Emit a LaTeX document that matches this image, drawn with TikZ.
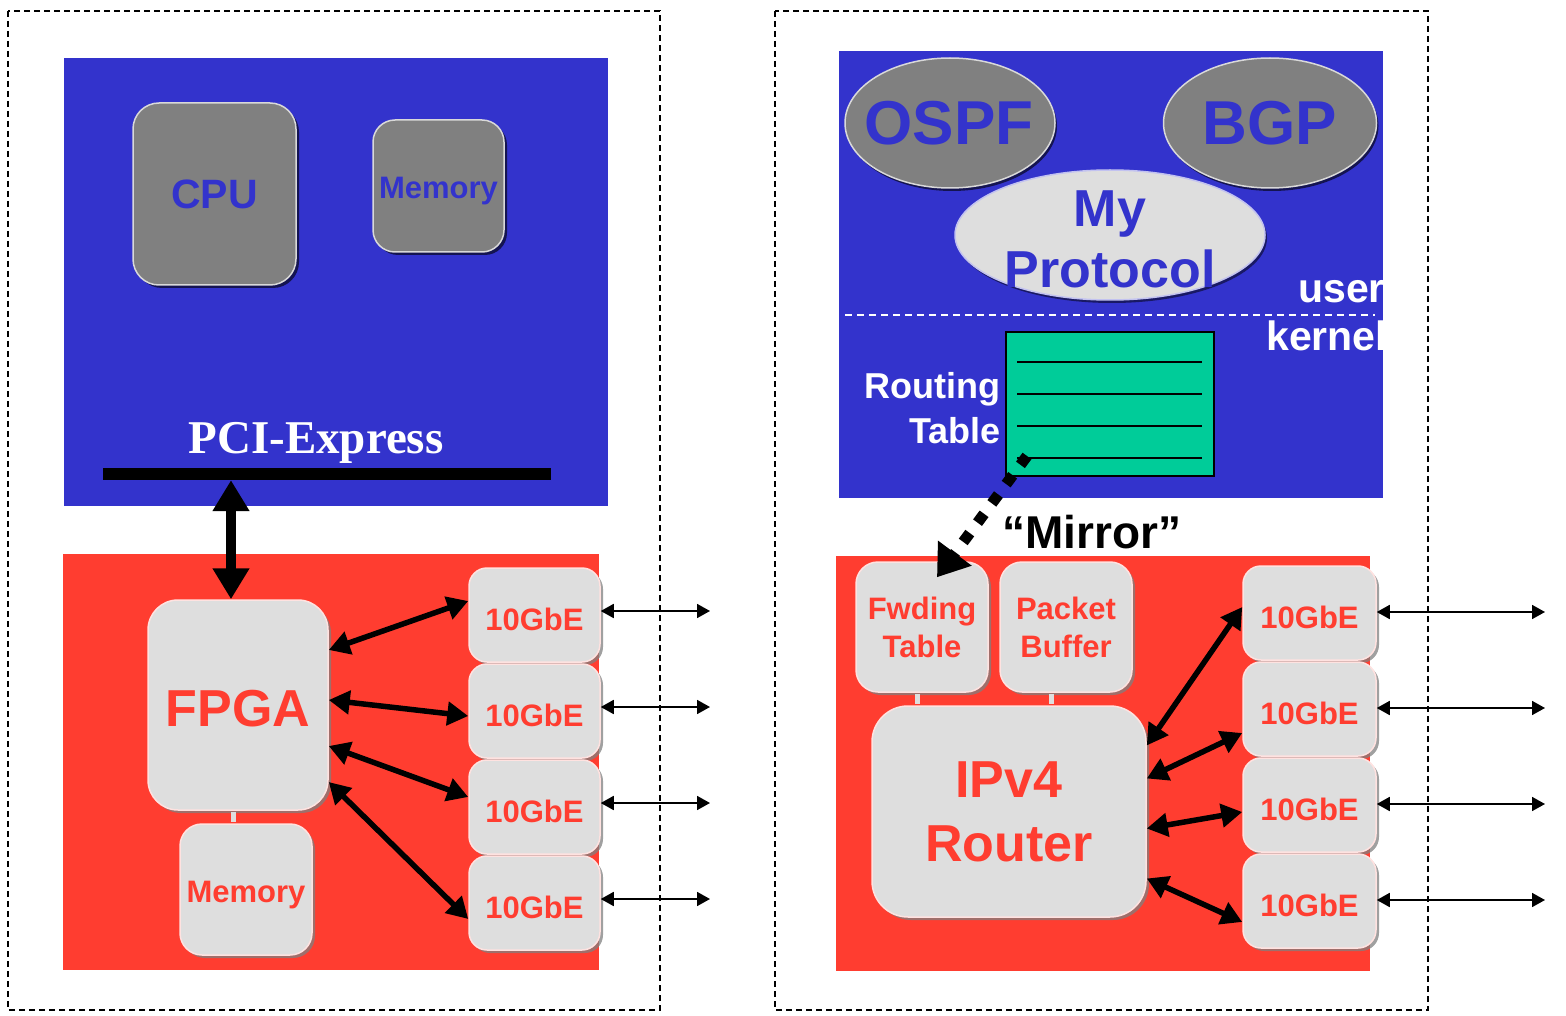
\documentclass[tikz,border=0pt]{standalone}
\usepackage{fontspec}
\setmainfont{Liberation Sans}
\newfontfamily\timesbf{Liberation Serif}
\usetikzlibrary{arrows.meta,shapes.geometric,shadows,calc}

\definecolor{panelblue}{RGB}{51,51,204}
\definecolor{panelred}{RGB}{255,61,48}
\definecolor{chipgray}{RGB}{128,128,128}
\definecolor{chiplight}{RGB}{222,222,222}
\definecolor{tablegreen}{RGB}{0,204,153}

\newcommand{\fs}[1]{\fontsize{#1pt}{1.18\dimexpr#1pt\relax}\selectfont\bfseries}

\begin{document}
\begin{tikzpicture}[x=1pt,y=-1pt,
  frame/.style={draw=black, line width=1.4pt, dash pattern=on 6pt off 4pt},
  darkchip/.style={rectangle, inner sep=0pt, fill=chipgray, draw=white!70!chipgray, line width=1.5pt,
    drop shadow={shadow xshift=3pt, shadow yshift=-3pt, fill=black, opacity=0.6}},
  litechip/.style={rectangle, inner sep=0pt, fill=chiplight, draw=white!85!panelred, line width=1.5pt,
    drop shadow={shadow xshift=3pt, shadow yshift=-3pt, fill=gray, opacity=0.75}},
  darkoval/.style={ellipse, inner sep=0pt, fill=chipgray, draw=white!70!chipgray, line width=1.5pt,
    drop shadow={shadow xshift=2pt, shadow yshift=-3pt, fill=black, opacity=0.6}},
  liteoval/.style={ellipse, inner sep=0pt, fill=chiplight, draw=white!70!panelblue, line width=1.5pt,
    drop shadow={shadow xshift=2pt, shadow yshift=-3pt, fill=black, opacity=0.5}},
  bluetext/.style={text=panelblue, align=center},
  redtext/.style={text=panelred, align=center},
  port/.style={litechip, rounded corners=18pt, minimum width=131pt, minimum height=94pt,
    redtext, font=\fs{31}, text height=30pt, text depth=0pt},
  link/.style={draw=chiplight, line width=5pt},
  fat/.style={line width=5.5pt, {Triangle[length=21pt,width=23pt]}-{Triangle[length=21pt,width=23pt]}},
  wire/.style={line width=1.8pt, {Triangle[length=13pt,width=14pt]}-{Triangle[length=13pt,width=14pt]}},
  busarrow/.style={line width=10pt, {Triangle[length=31pt,width=35pt]}-{Triangle[length=31pt,width=35pt]}},
  mirror/.style={line width=11pt, dash pattern=on 11pt off 13pt, -{Triangle[length=30pt,width=40pt]}}
]
\useasboundingbox (0,0) rectangle (1566,1016);

% ---------- outer dashed frames ----------
\draw[frame] (8,11) rectangle (660,1010);
\draw[frame] (775,11) rectangle (1428,1010);

% =============== left: host with FPGA card ===============
\fill[panelblue] (64,58) rectangle (608,506);
\fill[panelred] (63,554) rectangle (599,970);

\node[darkchip, rounded corners=26pt, minimum width=163pt, minimum height=182pt,
      bluetext, font=\fs{41}] (cpu) at (214.5,194) {CPU};
\node[darkchip, rounded corners=22pt, minimum width=131pt, minimum height=132pt,
      bluetext, font=\fs{31}, text height=25pt, text depth=0pt] (hostmem) at (438.5,186) {Memory};

\node[text=white, font=\timesbf\bfseries\fontsize{47pt}{55pt}\selectfont, anchor=base] (pcilabel) at (316,453) {PCI-Express};
\node[fill=black, inner sep=0pt, minimum width=448pt, minimum height=12pt] (bus) at (327,474) {};

\coordinate (memx) at (233,0);
\coordinate (fpgax) at (231,0);

\node[litechip, rounded corners=30pt, minimum width=180pt, minimum height=210pt,
      redtext, font=\fs{52}, text height=43pt, text depth=0pt] (fpga) at (238,705) {FPGA};
\node[litechip, rounded corners=22pt, minimum width=132pt, minimum height=131pt,
      redtext, font=\fs{31}, text height=25pt, text depth=0pt] (cardmem) at (246,889.5) {Memory};

\node[port] (g1) at (534.5,615) {10GbE};
\node[port] (g2) at (534.5,711) {10GbE};
\node[port] (g3) at (534.5,807) {10GbE};
\node[port] (g4) at (534.5,903) {10GbE};

\draw[link] ([yshift=-1pt]fpga.south -| memx) -- ([yshift=1pt]cardmem.north -| memx);

\draw[busarrow] (bus.south -| fpgax) -- (fpga.north -| fpgax);

\draw[fat] ([yshift=55pt]fpga.east) -- ([yshift=14pt]g1.west);
\draw[fat] ([yshift=5pt]fpga.east) -- ([yshift=-5pt]g2.west);
\draw[fat] ([yshift=-41pt]fpga.east) -- ([yshift=10pt]g3.west);
\draw[fat] ([yshift=-77pt]fpga.east) -- ([yshift=-16pt]g4.west);

\foreach \g in {g1,g2,g3,g4}{
  \coordinate (\g out) at ([yshift=4pt]\g.east -| 710,0);
  \draw[wire] ([yshift=4pt]\g.east) -- (\g out);
}

% =============== right: software router ===============
\fill[panelblue] (839,51) rectangle (1383,498);
\fill[panelred] (836,556) rectangle (1370,971);

\node[darkoval, minimum width=210pt, minimum height=130pt] (ospf) at (950,123) {};
\node[bluetext, font=\fs{62}] at ([xshift=-1pt]ospf.center) {OSPF};
\node[darkoval, minimum width=213pt, minimum height=130pt] (bgp) at (1270,123) {};
\node[bluetext, font=\fs{62}] at (bgp.center) {BGP};
\node[liteoval, minimum width=310pt, minimum height=130pt] (myproto) at (1110,235) {};
\node[bluetext, font=\fontsize{52pt}{61pt}\selectfont\bfseries] at ([yshift=-4pt]myproto.center) {My\\Protocol};

\draw[white, line width=1.5pt, dash pattern=on 7pt off 5pt] (845,315) -- (1375,315);
\begin{scope}
  \clip (839,51) rectangle (1383,498);
  \node[text=white, font=\fs{41}, anchor=base west, inner sep=0pt] at (1298,303) {user};
  \node[text=white, font=\fs{41}, anchor=base west, inner sep=0pt] at (1266,350) {kernel};
\end{scope}

\node[rectangle, fill=tablegreen, draw=black, line width=2pt, minimum width=208pt, minimum height=144pt] (rt) at (1110,404) {};
\foreach \dy in {31,63,95,127}{
  \draw[line width=1.5pt] ($(rt.north west)+(12,\dy)$) -- ($(rt.north east)+(-13,\dy)$);
}
\node[text=white, font=\fontsize{36pt}{45pt}\selectfont\bfseries, align=right, anchor=east, inner sep=0pt]
  (rtlabel) at ([xshift=-4pt,yshift=-4pt]rt.west) {Routing\\Table};

\node[litechip, rounded corners=22pt, minimum width=132pt, minimum height=130pt,
      redtext, font=\fontsize{31pt}{38pt}\selectfont\bfseries] (fwd) at (922,627) {Fwding\\Table};
\node[litechip, rounded corners=22pt, minimum width=132pt, minimum height=130pt,
      redtext, font=\fontsize{31pt}{38pt}\selectfont\bfseries] (pkt) at (1066,627) {Packet\\Buffer};
\node[litechip, rounded corners=36pt, minimum width=274pt, minimum height=211pt,
      redtext, font=\fontsize{52pt}{64pt}\selectfont\bfseries] (ipv4) at (1009,811.5) {IPv4\\Router};

\coordinate (fwdx) at (917,0);
\coordinate (pktx) at (1051,0);
\draw[link] ([yshift=-1pt]fwd.south -| fwdx) -- ([yshift=1pt]ipv4.north -| fwdx);
\draw[link] ([yshift=-1pt]pkt.south -| pktx) -- ([yshift=1pt]ipv4.north -| pktx);

\node[port, minimum width=133pt] (r1) at (1309.5,613) {10GbE};
\node[port, minimum width=133pt] (r2) at (1309.5,709) {10GbE};
\node[port, minimum width=133pt] (r3) at (1309.5,805) {10GbE};
\node[port, minimum width=133pt] (r4) at (1309.5,901) {10GbE};

\draw[fat] ([yshift=66pt]ipv4.east) -- ([yshift=6pt]r1.west);
\draw[fat] ([yshift=33pt]ipv4.east) -- ([yshift=-24pt]r2.west);
\draw[fat] ([yshift=-17pt]ipv4.east) -- ([yshift=-7pt]r3.west);
\draw[fat] ([yshift=-67pt]ipv4.east) -- ([yshift=-21pt]r4.west);

\foreach \r in {r1,r2,r3,r4}{
  \coordinate (\r out) at ([yshift=1pt]\r.east -| 1545,0);
  \draw[wire] ([yshift=1pt]\r.east) -- (\r out);
}

% mirror of the routing table into the forwarding table
\coordinate (rtsrc) at (1027,456);
\coordinate (fwdtip) at ([xshift=15pt,yshift=-16pt]fwd.north);
\draw[mirror] (rtsrc) -- (fwdtip);
\node[font=\fs{46}, anchor=base] (mirrorlabel) at (1092,548) {“Mirror”};

\end{tikzpicture}
\end{document}
